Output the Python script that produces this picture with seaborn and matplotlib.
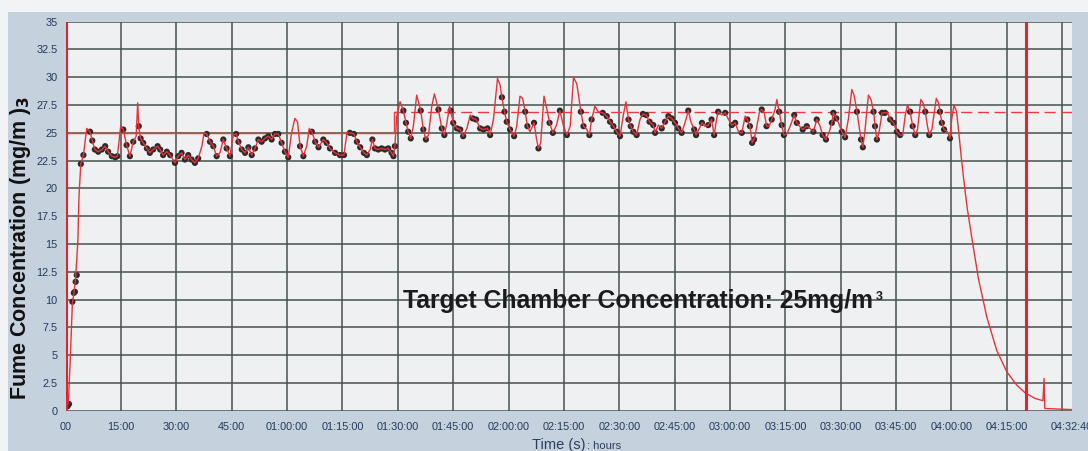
import matplotlib
matplotlib.use("Agg")
import matplotlib.pyplot as plt
from matplotlib.patches import Rectangle
import seaborn as sns

# Continuous fume concentration trace (time in minutes, mg/m3)
trace_min = [
    0.0, 0.3, 0.6, 0.8, 1.2, 1.8, 2.2, 2.7, 3.3, 3.6, 4.1, 4.8, 5.7, 6.6, 7.2, 7.9,
    8.8, 9.8, 10.7, 11.5, 12.5, 13.4, 14.0, 14.9, 15.6, 16.5, 17.4, 18.3, 19.1, 19.5,
    19.8, 20.3, 21.0, 22.0, 22.8, 23.7, 24.9, 25.6, 26.4, 27.4, 28.3, 29.6, 30.5, 31.4,
    32.3, 33.2, 34.1, 35.0, 35.9, 36.9, 37.5, 38.2, 39.1, 40.0, 40.9, 41.8, 42.7, 43.6,
    44.5, 45.4, 46.2, 46.8, 47.7, 48.6, 49.5, 50.4, 51.3, 52.2, 53.1, 54.0, 54.9, 55.8,
    56.7, 57.6, 58.5, 59.4, 60.3, 61.2, 62.1, 62.8, 63.5, 64.4, 65.3, 66.0, 66.7, 67.6,
    68.5, 69.8, 70.7, 71.6, 73.0, 74.3, 75.4, 76.2, 77.0, 78.1, 78.9, 79.8, 80.8, 81.6,
    82.5, 83.1, 83.8, 84.7, 85.6, 86.5, 87.4, 88.3, 88.8, 89.2, 89.7, 90.6, 91.5, 92.2,
    92.8, 93.5, 94.2, 95.1, 96.2, 96.9, 97.6, 98.3, 99.2, 99.9, 101.0, 101.9, 102.6, 103.3,
    104.0, 104.3, 105.0, 106.0, 106.9, 107.7, 108.7, 109.6, 110.3, 111.2, 112.3, 113.2,
    114.3, 115.0, 115.9, 117.0, 117.7, 118.2, 118.9, 119.5, 120.4, 121.5, 122.2, 123.1,
    123.8, 124.5, 125.1, 125.8, 126.9, 127.6, 128.1, 128.7, 129.6, 130.4, 131.1, 132.0,
    133.0, 133.9, 134.9, 135.8, 136.7, 137.6, 138.5, 139.6, 140.3, 141.2, 141.9, 142.5,
    143.4, 144.3, 145.5, 146.6, 147.5, 148.4, 149.3, 150.2, 151.1, 151.8, 152.5, 153.1,
    153.8, 154.7, 155.6, 156.4, 157.3, 158.2, 159.2, 159.7, 160.6, 161.5, 162.4, 163.3,
    164.2, 165.1, 166.0, 166.9, 167.8, 168.7, 169.4, 170.3, 170.8, 171.7, 172.4, 173.2,
    174.1, 175.0, 175.7, 176.4, 176.8, 177.8, 178.7, 179.6, 180.5, 181.4, 182.3, 183.2,
    184.1, 184.7, 185.4, 186.0, 186.5, 187.1, 188.0, 188.6, 189.3, 189.9, 190.6, 191.3,
    192.2, 192.7, 193.3, 194.0, 194.6, 195.4, 196.3, 197.4, 198.1, 198.8, 199.7, 200.8,
    201.7, 202.6, 203.5, 204.4, 205.1, 206.0, 206.9, 207.6, 208.0, 208.8, 209.4, 210.3,
    211.2, 212.1, 213.0, 213.6, 214.4, 215.1, 215.5, 216.0, 216.6, 217.5, 218.2, 218.9,
    219.3, 219.8, 220.4, 221.2, 222.0, 222.7, 223.4, 224.3, 225.2, 226.1, 226.8, 227.5,
    228.1, 228.8, 229.5, 230.2, 230.8, 231.7, 232.3, 232.9, 233.5, 234.0, 234.7, 235.9,
    236.5, 236.9, 237.4, 238.0, 238.9, 239.6, 240.1, 240.7, 241.4, 242.0, 242.6, 243.3,
    244.2, 245.5, 247.3, 249.6, 252.3, 255.0, 257.7, 260.0, 262.7, 264.8, 265.1, 265.3,
    272.6,
]
trace_val = [
    0.0, 0.4, 0.6, 1.3, 4.3, 9.6, 10.5, 12.0, 15.3, 19.3, 22.2, 23.0, 25.4, 25.1, 24.3, 23.5,
    23.3, 23.5, 23.8, 23.3, 22.9, 22.8, 22.9, 25.6, 25.3, 23.9, 22.9, 24.2, 24.7, 27.7,
    25.6, 24.5, 24.1, 23.6, 23.2, 23.5, 23.8, 23.5, 23.0, 23.3, 23.0, 22.3, 22.9, 23.2,
    22.6, 23.0, 22.6, 22.3, 22.7, 23.8, 25.0, 24.9, 24.2, 23.8, 22.9, 23.2, 24.4, 23.6,
    22.9, 24.8, 24.9, 24.2, 23.5, 23.2, 23.7, 23.0, 23.6, 24.4, 24.2, 24.5, 24.7, 24.4,
    24.9, 24.9, 24.1, 23.3, 22.8, 25.0, 26.3, 26.0, 23.8, 22.9, 23.8, 25.4, 25.1, 24.2,
    23.7, 24.4, 24.1, 23.6, 23.2, 23.0, 23.0, 25.0, 25.0, 24.9, 24.2, 23.7, 23.2, 23.0,
    23.5, 24.4, 23.6, 23.5, 23.6, 23.5, 23.6, 23.2, 22.9, 23.8, 26.5, 27.8, 27.0, 25.9,
    25.1, 24.5, 25.6, 28.4, 27.0, 25.3, 24.4, 24.8, 27.4, 28.5, 27.1, 25.4, 24.8, 25.9,
    27.4, 27.0, 25.9, 25.4, 25.3, 24.7, 25.4, 26.6, 26.3, 26.2, 25.4, 25.3,
    25.4, 24.8, 26.2, 29.9, 29.3, 28.2, 26.9, 26.0, 25.3, 24.7, 25.6, 28.3,
    28.1, 26.9, 25.6, 25.1, 25.9, 24.4, 23.6, 24.1, 28.3, 27.1, 25.9, 25.0,
    25.7, 27.0, 25.6, 24.8, 25.6, 30.0, 29.4, 26.9, 25.6, 25.3, 24.8, 26.2,
    27.4, 26.9, 26.8, 26.5, 26.0, 25.6, 25.1, 24.7, 26.6, 27.8, 26.2, 25.6,
    25.1, 24.8, 26.2, 26.7, 26.6, 26.0, 25.7, 25.0, 25.7, 25.4, 26.0, 26.5,
    26.3, 25.9, 25.4, 25.0, 25.9, 27.0, 26.0, 25.3, 24.8, 25.4, 25.9, 25.6,
    25.7, 26.2, 24.8, 26.3, 26.9, 26.6, 26.8, 26.2, 25.7, 25.9, 25.1, 25.0,
    26.5, 26.2, 25.6, 24.1, 24.4, 25.3, 26.9, 27.1, 26.8, 25.6, 25.6, 26.2,
    27.1, 28.0, 26.9, 25.7, 24.8, 24.9, 25.6, 26.6, 25.9, 25.6, 25.3, 25.6,
    25.4, 25.1, 26.2, 25.6, 24.8, 24.4, 25.1, 25.9, 26.8, 26.3, 25.9, 25.1,
    24.6, 26.3, 28.9, 28.4, 26.9, 25.3, 24.4, 23.7, 25.3, 28.4, 28.0, 26.9,
    25.6, 24.4, 25.1, 26.8, 26.8, 26.8, 26.2, 25.9, 25.1, 24.8, 24.8, 26.6,
    27.5, 26.9, 25.6, 24.8, 25.3, 28.0, 27.7, 26.9, 25.6, 24.8, 25.3, 28.1,
    27.7, 26.9, 25.9, 25.3, 25.1, 24.5, 26.3, 27.5, 26.9, 25.0, 23.0, 20.9,
    18.4, 15.6, 11.9, 8.4, 5.4, 3.5, 2.3, 1.6, 1.1, 0.9, 2.9, 0.2,
    0.1,
]

# Logged sample points (time in minutes, mg/m3)
sample_min = [
    0.5, 0.9, 1.8, 2.2, 2.5, 2.7, 3.0, 4.1, 4.8, 6.6, 7.2, 7.9, 8.8, 9.8, 10.7, 11.5,
    12.5, 13.4, 14.0, 15.6, 16.5, 17.4, 18.3, 19.8, 20.3, 21.0, 22.0, 22.8, 23.7, 24.9,
    25.6, 26.4, 27.4, 28.3, 29.6, 30.5, 31.4, 32.3, 33.2, 34.1, 35.0, 35.9, 38.2, 39.1,
    40.0, 40.9, 42.7, 43.6, 44.5, 46.2, 46.8, 47.7, 48.6, 49.5, 50.4, 51.3, 52.2, 53.1,
    54.0, 54.9, 55.8, 56.7, 57.6, 58.5, 59.4, 60.3, 63.5, 64.4, 66.7, 67.6, 68.5, 69.8,
    70.7, 71.6, 73.0, 74.3, 75.4, 77.0, 78.1, 78.9, 79.8, 80.8, 81.6, 83.1, 83.8, 84.7,
    85.6, 86.5, 87.4, 88.3, 88.8, 89.2, 91.5, 92.2, 92.8, 93.5, 96.2, 96.9, 97.6, 101.0,
    101.9, 102.6, 104.3, 105.0, 106.0, 106.9, 107.7, 110.3, 111.2, 112.3, 113.2, 114.3,
    115.0, 118.2, 118.9, 119.5, 120.4, 121.5, 124.5, 125.1, 126.9, 128.1, 131.1, 132.0,
    133.9, 135.8, 139.6, 140.3, 141.9, 142.5, 145.5, 146.6, 147.5, 148.4, 149.3, 150.2,
    152.5, 153.1, 153.8, 154.7, 156.4, 157.3, 158.2, 159.2, 159.7, 161.5, 162.4, 163.3,
    164.2, 165.1, 166.0, 166.9, 168.7, 170.3, 170.8, 172.4, 174.1, 175.0, 175.7, 176.8,
    178.7, 180.5, 181.4, 183.2, 184.7, 185.4, 186.0, 186.5, 188.6, 189.9, 191.3, 193.3,
    194.0, 194.6, 197.4, 198.1, 199.7, 200.8, 202.6, 203.5, 205.1, 206.0, 207.6, 208.0,
    208.8, 210.3, 211.2, 214.4, 215.5, 216.0, 218.9, 219.3, 219.8, 221.2, 222.0, 223.4,
    224.3, 225.2, 226.1, 228.8, 229.5, 230.2, 232.9, 234.0, 236.9, 237.4, 238.0, 239.6,
]
sample_val = [
    0.4, 0.6, 9.8, 10.6, 10.7, 11.6, 12.2, 22.2, 23.0, 25.1, 24.3, 23.5, 23.3, 23.5, 23.8, 23.3,
    22.9, 22.8, 22.9, 25.3, 23.9, 22.9, 24.2, 25.6, 24.5, 24.1, 23.6, 23.2, 23.5, 23.8,
    23.5, 23.0, 23.3, 23.0, 22.3, 22.9, 23.2, 22.6, 23.0, 22.6, 22.3, 22.7, 24.9, 24.2,
    23.8, 22.9, 24.4, 23.6, 22.9, 24.9, 24.2, 23.5, 23.2, 23.7, 23.0, 23.6, 24.4, 24.2,
    24.5, 24.7, 24.4, 24.9, 24.9, 24.1, 23.3, 22.8, 23.8, 22.9, 25.1, 24.2, 23.7, 24.4,
    24.1, 23.6, 23.2, 23.0, 23.0, 25.0, 24.9, 24.2, 23.7, 23.2, 23.0, 24.4, 23.6, 23.5,
    23.6, 23.5, 23.6, 23.2, 22.9, 23.8, 27.0, 25.9, 25.1, 24.5, 27.0, 25.3, 24.4, 27.1,
    25.4, 24.8, 27.0, 25.9, 25.4, 25.3, 24.7, 26.3, 26.2, 25.4, 25.3, 25.4,
    24.8, 28.2, 26.9, 26.0, 25.3, 24.7, 26.9, 25.6, 25.9, 23.6, 25.9, 25.0,
    27.0, 24.8, 26.9, 25.6, 24.8, 26.2, 26.8, 26.5, 26.0, 25.6, 25.1, 24.7,
    26.2, 25.6, 25.1, 24.8, 26.7, 26.6, 26.0, 25.7, 25.0, 25.4, 26.0, 26.5,
    26.3, 25.9, 25.4, 25.0, 27.0, 25.3, 24.8, 25.9, 25.7, 26.2, 24.8, 26.9,
    26.8, 25.7, 25.9, 25.0, 26.2, 25.6, 24.1, 24.4, 27.1, 25.6, 26.2, 26.9,
    25.7, 24.8, 26.6, 25.9, 25.3, 25.6, 25.1, 26.2, 24.8, 24.4, 25.9, 26.8,
    26.3, 25.1, 24.6, 26.9, 24.4, 23.7, 26.9, 25.6, 24.4, 26.8, 26.8, 26.2,
    25.9, 25.1, 24.8, 26.9, 25.6, 24.8, 26.9, 24.8, 26.9, 25.9, 25.3, 24.5,
]

# Chamber set points (minutes, mg/m3)
setpoint_a_min = [0.0, 89.0, 89.0, 89.8]
setpoint_a_val = [25.0, 25.0, 26.9, 26.9]
setpoint_b_min = [89.0, 272.667]
setpoint_b_val = [26.9, 26.9]

# Cursor markers (minutes)
cursor_min = [0.1, 260.3]

# Axis ticks
y_ticks = [0, 2.5, 5, 7.5, 10, 12.5, 15, 17.5, 20, 22.5, 25, 27.5, 30, 32.5, 35]
y_labels = ["0", "2.5", "5", "7.5", "10", "12.5", "15", "17.5", "20", "22.5", "25",
            "27.5", "30", "32.5", "35"]
x_ticks = [0, 15, 30, 45, 60, 75, 90, 105, 120, 135, 150, 165, 180, 195, 210, 225,
           240, 255, 270]
x_labels = ["00", "15:00", "30:00", "45:00", "01:00:00", "01:15:00", "01:30:00",
            "01:45:00", "02:00:00", "02:15:00", "02:30:00", "02:45:00", "03:00:00",
            "03:15:00", "03:30:00", "03:45:00", "04:00:00", "04:15:00", ""]
x_end = 272.667
x_end_label = "04:32:40"

sns.set_theme(style="whitegrid")
plt.rcParams['font.family'] = ['Liberation Sans', 'DejaVu Sans']

W, H = 1088, 451
fig = plt.figure(figsize=(W / 100, H / 100), dpi=100, facecolor='#f1f3f5')
fig.patches.append(Rectangle((8 / W, 0), 1 - 8 / W, 1 - 12 / H, transform=fig.transFigure,
                             facecolor='#c5d2de', edgecolor='none', zorder=-10))

ax = fig.add_axes([65.7 / W, 40.3 / H, 1006.3 / W, 389.0 / H])
ax.set_zorder(1)
ax.set_facecolor('#eef0f2')

grid_col = '#45514c'
ax.set_xlim(0, x_end)
ax.set_ylim(0, 35)
ax.set_xticks(x_ticks)
ax.set_xticklabels(x_labels)
ax.set_xticks([x_end], minor=True)
ax.set_xticklabels([x_end_label], minor=True)
ax.set_yticks(y_ticks)
ax.set_yticklabels(y_labels)
ax.grid(True, which='major', color=grid_col, lw=1.1)
ax.grid(False, which='minor')
for side in ['left', 'right', 'top', 'bottom']:
    ax.spines[side].set_visible(False)
ax.tick_params(axis='both', which='both', direction='out', length=4, width=1,
               color='#5a646b', labelcolor='#23395a', labelsize=7.8)
ax.tick_params(axis='x', which='both', pad=4)
ax.tick_params(axis='y', pad=2)

# set points
ax.plot(setpoint_a_min, setpoint_a_val, color='#ec3b40', lw=1.0, zorder=2)
ax.plot(setpoint_b_min, setpoint_b_val, color='#ec3b40', lw=1.0, dashes=(8, 4), zorder=2)

# measurements
sns.scatterplot(x=sample_min, y=sample_val, ax=ax, color='#2e2a2a', s=20,
                edgecolor='none', zorder=3, legend=False)
sns.lineplot(x=trace_min, y=trace_val, ax=ax, color='#e8323a', lw=1.0, sort=False,
             estimator=None, zorder=4, legend=False)

# cursors
for c in cursor_min:
    ax.axvline(c, color='#e3232b', lw=2.2, zorder=5)

ax.set_xlabel("")
ax.set_ylabel("")

note = ax.text(91.4, 9.2, "Target Chamber Concentration: 25mg/m",
               fontsize=17.8, fontweight='bold', color='#1b1b1b',
               va='baseline', ha='left', zorder=6)
ax.annotate("3", xy=(1.0, 1.0), xycoords=note, xytext=(2, -1), textcoords='offset points',
            fontsize=9, fontweight='bold', color='#1b1b1b', ha='left', va='top', zorder=6)

fig.text(21 / W, 1 - 248 / H, r"Fume Concentration (mg/m )$_{\mathbf{3}}$", rotation=90,
         ha='center', va='center', fontsize=15.5, fontweight='bold', color='#111111')

fig.text(586 / W, 1 - 449 / H, "Time (s)", ha='right', va='baseline', fontsize=10.5,
         color='#2a3d5c')
fig.text(587 / W, 1 - 449 / H, ": hours", ha='left', va='baseline', fontsize=8,
         color='#2a3d5c')

fig.savefig("out.png", dpi=100, facecolor=fig.get_facecolor())
